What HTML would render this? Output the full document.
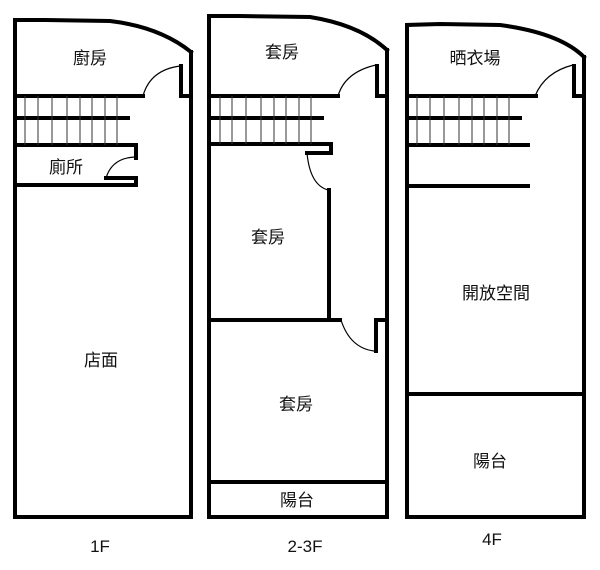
<!DOCTYPE html>
<html><head><meta charset="utf-8"><style>
html,body{margin:0;padding:0;background:#fff;}
svg{display:block}
text{font-family:"Liberation Sans","Noto Sans CJK TC",sans-serif;fill:#111;}
</style></head><body>
<svg width="600" height="570" viewBox="0 0 600 570" xmlns="http://www.w3.org/2000/svg">
<g fill="none" stroke="#000" stroke-width="4" stroke-linecap="square">
<path d="M191,52 L191,517 L15,517 L15,20 L45,20 L110,21 Q160,27 191,52"/>
<path d="M15,96 L143,96"/>
<path d="M181,66 L181,96 L191,96"/>
<path d="M15,118 L128,118"/>
<path d="M15,145 L136,145 L136,158"/>
<path d="M106,178 L136,178 L136,185 L15,185"/>
<path d="M387,50 L387,517 L209,517 L209,16 L240,16 L310,17 Q360,25 387,50"/>
<path d="M209,96 L338,96"/>
<path d="M377,66 L377,96 L387,96"/>
<path d="M209,118 L322,118"/>
<path d="M209,144 L331,144 L331,153 L307,153"/>
<path d="M329,190 L329,320"/>
<path d="M209,320 L340,320"/>
<path d="M376,351 L376,320 L387,320"/>
<path d="M209,482 L387,482"/>
<path d="M584,57 L584,517 L407,517 L407,25 L440,24 L500,25 Q560,33 584,57"/>
<path d="M407,96 L536,96"/>
<path d="M574,66 L574,96 L584,96"/>
<path d="M407,118 L520,118"/>
<path d="M407,145 L528,145"/>
<path d="M407,186 L528,186"/>
<path d="M407,394 L584,394"/>
</g>
<g stroke="#333" stroke-width="1">
<path d="M25,96V145M38,96V145M52,96V145M67,96V145M80,96V145M92,96V145M105,96V145M117,96V145"/>
<path d="M220,96V144M232,96V144M246,96V144M261,96V144M274,96V144M286,96V144M299,96V144M311,96V144"/>
<path d="M417,96V145M430,96V145M444,96V145M459,96V145M472,96V145M484,96V145M497,96V145M509,96V145"/>
</g>
<g fill="none" stroke="#000" stroke-width="1.2">
<path d="M143,96 Q150,70 180,66"/>
<path d="M106,178 Q112,158 135,157"/>
<path d="M338,96 Q345,72 376,65"/>
<path d="M307,153 Q310,185 328,190"/>
<path d="M341,320 Q350,348 374,351"/>
<path d="M535,96 Q545,72 573,65"/>
</g>
<g font-size="17" text-anchor="middle">
<text x="90" y="64">廚房</text>
<text x="66" y="173">廁所</text>
<text x="101" y="366">店面</text>
<text x="282" y="58">套房</text>
<text x="268" y="243">套房</text>
<text x="296" y="410">套房</text>
<text x="297" y="506">陽台</text>
<text x="475" y="64">晒衣場</text>
<text x="496" y="299">開放空間</text>
<text x="490" y="467">陽台</text>
<text x="100" y="552">1F</text>
<text x="305" y="552">2-3F</text>
<text x="492" y="545">4F</text>
</g>
</svg>
</body></html>
